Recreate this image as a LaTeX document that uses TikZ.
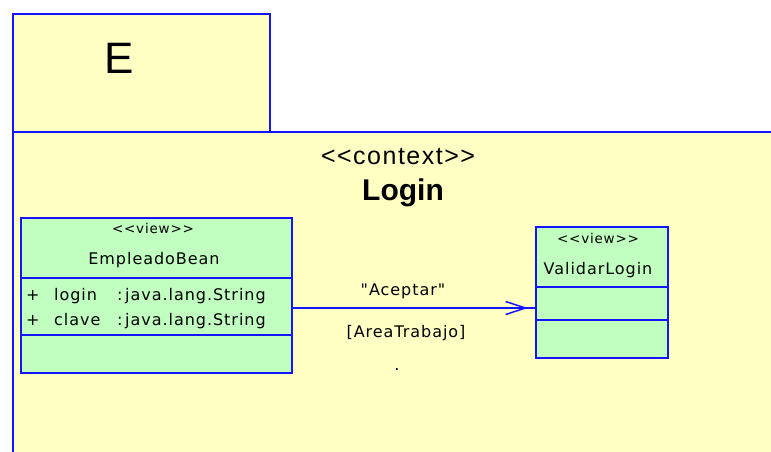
\documentclass[tikz,border=0pt]{standalone}
\usepackage{fontspec}
\setmainfont{Liberation Sans}
\newfontfamily\uifont[LetterSpace=6]{DejaVu Sans}
\usetikzlibrary{arrows.meta}
\definecolor{pkgfill}{RGB}{255,255,196}
\definecolor{clsfill}{RGB}{192,255,192}
\definecolor{umlblue}{RGB}{20,20,255}

\begin{document}
\begin{tikzpicture}[x=1pt,y=-1pt,
  pkgshape/.style={draw=umlblue, fill=pkgfill, line width=1.5pt, rectangle,
    inner sep=0pt, anchor=north west},
  clsbox/.style={draw=umlblue, fill=clsfill, line width=1.5pt, rectangle,
    inner sep=0pt, anchor=north west},
  divider/.style={draw=umlblue, line width=1.5pt},
  txt/.style={inner sep=0pt, anchor=base, text=black},
  uitxt/.style={txt, font=\uifont\fontsize{16}{19}\selectfont},
  stereo/.style={txt, font=\uifont\fontsize{13.5}{15}\selectfont},
  attr/.style={uitxt, anchor=base west},
  flow/.style={draw=umlblue, line width=1.5pt},
]
\clip (0,0) rectangle (771,451);
\fill[white] (0,0) rectangle (771,451);

% package: tab and body (the body runs past the right and bottom edges)
\node[pkgshape, minimum width=257pt, minimum height=118pt] (tab) at (12,13) {};
\node[pkgshape, minimum width=800pt, minimum height=340pt] (body) at (12,131) {};
\node[txt, font=\fontsize{44}{48}\selectfont] (pname) at (119,73) {E};
\node[txt, font=\fontsize{25}{28}\selectfont\addfontfeature{LetterSpace=6}] (ctx) at (398,164) {<{}<context>{}>};
\node[txt, font=\bfseries\fontsize{30}{34}\selectfont] (lname) at (403,200) {Login};

% class EmpleadoBean
\node[clsbox, minimum width=271pt, minimum height=155pt] (emp) at (20,217) {};
\draw[divider] ([yshift=-61pt]emp.north west) -- ([yshift=-61pt]emp.north east);
\draw[divider] ([yshift=-118pt]emp.north west) -- ([yshift=-118pt]emp.north east);
\node[stereo] (empst) at (153,233) {<{}<view>{}>};
\node[uitxt] (empname) at (154,264) {EmpleadoBean};
\node[attr] (v1) at (26,300) {+};
\node[attr] (a1) at (54,300) {login};
\node[attr] (t1) at (117,300) {:\,java.lang.String};
\node[attr] (v2) at (26,325) {+};
\node[attr] (a2) at (54,325) {clave};
\node[attr] (t2) at (117,325) {:\,java.lang.String};

% class ValidarLogin
\node[clsbox, minimum width=132pt, minimum height=131pt] (val) at (535,226) {};
\draw[divider] ([yshift=-61pt]val.north west) -- ([yshift=-61pt]val.north east);
\draw[divider] ([yshift=-94pt]val.north west) -- ([yshift=-94pt]val.north east);
\node[stereo] (valst) at (598,243) {<{}<view>{}>};
\node[uitxt] (valname) at (598,274) {ValidarLogin};

% navigation from EmpleadoBean to ValidarLogin
\coordinate (lane) at (0,308);
\draw[flow] (emp.east |- lane) -- (val.west |- lane);
\draw[flow, -{Straight Barb[length=20pt,width=13pt,line width=1.5pt]}, shorten >=7pt]
  (emp.east |- lane) -- (val.west |- lane);
\node[uitxt] (evt) at (403,295) {"Aceptar"};
\node[uitxt] (guard) at (406,337) {[AreaTrabajo]};
\node[uitxt] (act) at (397,370) {.};
\end{tikzpicture}
\end{document}
